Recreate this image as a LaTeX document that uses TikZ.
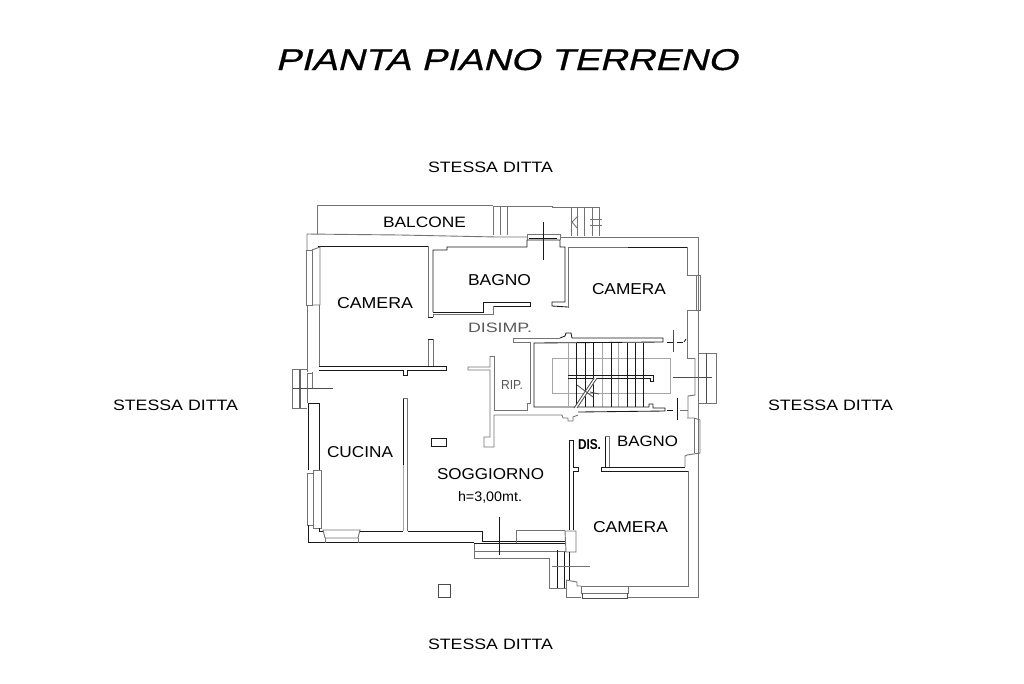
\documentclass[tikz,border=0pt]{standalone}
\usepackage{graphicx}
\usepackage{fontspec}
\setmainfont{Liberation Sans}
\newcommand{\fit}[3]{\resizebox{#1pt}{#2pt}{#3}}
\tikzset{
  k/.style={draw=black!90,line width=0.85pt,line cap=butt,line join=miter},
  g/.style={draw=black!55,line width=0.9pt,line join=miter},
  lg/.style={draw=black!35,line width=0.9pt},
  d/.style={draw=black!70,line width=0.85pt},
  lab/.style={anchor=base west,inner sep=0pt,outer sep=0pt,text=black},
  labg/.style={anchor=base west,inner sep=0pt,outer sep=0pt,text=black!65},
}
\begin{document}
\begin{tikzpicture}[x=1pt,y=-1pt]
\useasboundingbox (0,0) rectangle (1024,683);
\fill[white] (0,0) rectangle (1024,683);
% texts
\node[lab] (title) at (275.5,70) {\fit{462}{21}{\fontspec[FakeSlant=0.2,FakeBold=0.5]{Liberation Sans}PIANTA PIANO TERRENO}};
\node[lab] (s1) at (428,172.5) {\fit{125}{10.5}{STESSA DITTA}};
\node[lab] (s2) at (113,410) {\fit{125}{10.5}{STESSA DITTA}};
\node[lab] (s3) at (768,410) {\fit{125}{10.5}{STESSA DITTA}};
\node[lab] (s4) at (428,649) {\fit{125}{10.5}{STESSA DITTA}};
\node[lab] (balc) at (383,227) {\fit{83}{10.5}{BALCONE}};
\node[lab] (cam1) at (337,308) {\fit{76}{11}{CAMERA}};
\node[lab] (bag1) at (468,285) {\fit{63}{11}{BAGNO}};
\node[lab] (cam2) at (592,294) {\fit{74}{11}{CAMERA}};
\node[labg] (dis) at (468,332.5) {\fit{64}{9.5}{DISIMP.}};
\node[labg] (rip) at (501,389) {\fit{22}{9}{RIP.}};
\node[lab] (cuc) at (327,457) {\fit{66}{11}{CUCINA}};
\node[lab] (sog) at (437,479) {\fit{107}{11}{SOGGIORNO}};
\node[lab] (h) at (458,501) {\fit{64}{10}{h=3,00mt.}};
\node[lab] (dd) at (578,449) {\fit{23}{10}{\bfseries DIS.}};
\node[lab] (bag2) at (617,446) {\fit{61}{10.5}{BAGNO}};
\node[lab] (cam3) at (593,532) {\fit{75}{11}{CAMERA}};
% balcony
\draw[g] (317,234) -- (317,205) -- (493,205);
\draw[g] (493,206) -- (552,206) -- (552,207) -- (599,207) -- (599,236);
\foreach \x in {493,500,507} \draw[g] (\x,207) -- (\x,235);
\foreach \x in {571,577,584,592} \draw[g] (\x,207) -- (\x,236);
\draw[g] (578,216) -- (572,222) -- (577,228);
\draw[g] (590,219) -- (602,219) (590,225) -- (602,225);
% outer wall
\draw[g] (307,250) -- (307,234) -- (400,235) -- (497,237) -- (527,237);
\draw[g] (560,237) -- (698,237) -- (698,353);
\draw[g] (698,403) -- (698,597) -- (628,597);
\draw[g] (581,597) -- (566,597) -- (566,580);
\draw[g] (566,588) -- (549,588) -- (549,558) -- (474,558) -- (474,543);
\draw[g] (474,551) -- (566,551);
% top window
\draw[k] (433,312) -- (433,250) -- (447,250) -- (447,247) -- (527,247) -- (527,240) -- (560,240) -- (560,247) -- (565,247) -- (565,302) -- (552,302) -- (552,306) -- (568,307);
\draw[g] (527,234) -- (560,234) (527,234) -- (527,240) (560,234) -- (560,240);
\draw[k] (543,222) -- (543,260);
\draw[k] (529,238) -- (557,238);
% partition bagno/disimp
\draw[g] (568,247) -- (568,308);
\draw[g] (568,247) -- (628,247);
\draw[k] (628,247) -- (687,247);
\draw[g] (687,247) -- (687,275) -- (700,275) -- (700,310) -- (687,310) -- (687,358) -- (695,358);
\draw[g] (696,275) -- (696,310);
\draw[g] (428,246) -- (428,317);
\draw[k] (428,317) -- (433,317);
\draw[k] (433,312) -- (483,312) -- (483,302) -- (530,302) -- (530,306) -- (493,306);
\draw[g] (493,306) -- (493,314) -- (433,314) -- (433,317);
% camera 1
\draw[k] (318,246) -- (428,246);
\draw[g] (306,250) rectangle (312,305);
\draw[g] (312,250) -- (320,247) -- (320,305) -- (312,305);
\draw[g] (319,305) -- (319,367);
\draw[g] (307,305) -- (307,372);
\draw[g] (428,339) -- (428,367) (433,339) -- (433,367);
\draw[k] (428,339) -- (433,339);
\draw[k] (319,366.5) -- (446,366.5) -- (446,370) -- (407,370) -- (407,375) -- (403,375) -- (403,370) -- (319,370);
% left window
\draw[g] (307,373) rectangle (312,388);
\draw[g] (307,373) -- (307,403) (312,388) -- (312,372);
\draw[g] (307,369) -- (292,369) -- (292,408) -- (307,408);
\draw[draw=black!60,line width=1.6pt] (300,369) -- (300,408);
\draw[d] (293,388) -- (333,388);
% cucina
\draw[k] (308,470) -- (308,403) -- (319,403) -- (319,470);
\draw[g] (313,470) -- (321,470) -- (321,528) -- (313,528) -- (313,470);
\draw[g] (307,473) rectangle (313,525);
\draw[k] (308,525) -- (308,542) -- (474,542);
\draw[k] (319,528) -- (319,531) -- (323,531);
\draw[g] (323,530) -- (360,530) -- (358,538) -- (325,538) -- cycle;
\draw[g] (325,538) -- (325,543) (358,538) -- (358,543);
\draw[k] (360,531) -- (403,531);
\draw[k] (408,531) -- (482,531) -- (482,541) -- (565,541);
\draw[k] (403,398) -- (403,465);
\draw[lg] (403,465) -- (403,531);
\draw[g] (403,398) -- (407.5,398) -- (407.5,531);
\draw[k] (474,543.5) -- (566,543.5);
\draw[g] (516,530) -- (565,530);
\draw[g] (516,530) -- (516,543);
\draw[k] (499,517) -- (499,555);
% rect + square
\draw[k] (431,438) rectangle (446,446);
\draw[d] (438.5,584) rectangle (450.5,597);
% RIP and disimp
\draw[g] (490,356) -- (490,367) -- (468,367) -- (468,370) -- (490,370) -- (490,437) -- (484,437) -- (484,447) -- (494,447) -- (494,415) -- (562,415) -- (563,418) -- (568,418) -- (568,421) -- (573,421) -- (573,417) -- (578,415);
\draw[g] (490,356) -- (494,356) -- (494,410) -- (527,410) -- (527,403) -- (530.5,403) -- (530.5,342) -- (513,342) -- (513,338) -- (560,338);
\draw[k] (560,338) -- (565,336) -- (566,333) -- (571,333) -- (572,338) -- (663,338) -- (663,342) -- (534,343) -- (534,407) -- (590,407);
% stair
\draw[lg] (552,358) rectangle (670,393);
\foreach \x in {576,585,593,611,627,635,643} \draw[k] (\x,343) -- (\x,407);
\foreach \x in {568,602,618} \draw[lg] (\x,343) -- (\x,407);
\draw[k] (568,375) -- (653,375) -- (653,381) -- (650,381) -- (650,378) -- (568,378);
\draw[k] (590,407) -- (649,407) -- (649,404) -- (653,404) -- (653,408) -- (665,408) -- (665,411) -- (578,412);
\draw[draw=white,line width=2.5pt] (596,378) -- (576,408);
\draw[d] (597,378) -- (577,408) (594,378) -- (574,408);
\draw[d] (577,385) -- (593,397) (590,392) -- (599,394);
% right dash
\draw[k] (667,342) -- (673,342) (677,342) -- (683,342);
\draw[k] (686,339) -- (684,342);
\draw[d] (673,330) -- (673,352);
\draw[k] (667,410) -- (673,410);
\draw[g] (680,410) -- (688,410);
\draw[k] (677,398) -- (677,420);
\draw[d] (673,377) -- (712,377);
% right window
\draw[g] (695,358) -- (695,395) -- (688,396) -- (688,418);
\draw[g] (698,353) -- (716,353) -- (716,403) -- (698,403);
\draw[g] (698,353) -- (698,403);
\draw[d] (706,353) -- (706,403);
\draw[g] (687,418) -- (694,418) -- (700,420) -- (700,453) -- (687,455) -- (685,456) -- (685,467);
\draw[g] (694,418) -- (694,453);
% bagno low
\draw[k] (601,467) -- (685,467);
\draw[k] (601,467) -- (601,471) -- (688,471);
\draw[g] (688,471) -- (688,586) -- (628,586);
\draw[k] (605,467) -- (605,436) ;
\draw[g] (605,436) -- (609,436) -- (609,467);
% camera 3 left
\draw[k] (569.5,530) -- (569.5,440) -- (573,440) -- (573,467) -- (578,467) -- (578,471) -- (573,471) -- (573,530);
\draw[g] (565,531) -- (576,531) -- (576,552) -- (566,552) -- (565,531);
\draw[k] (564,552) -- (564,588);
\draw[k] (569,552) -- (569,580);
\draw[k] (557,550) -- (557,588);
\draw[g] (552,566) -- (590,566);
\draw[g] (566,580) -- (577,582) -- (577,586) -- (581,586);
\draw[g] (581,586) -- (628,586) -- (628,593) -- (581,593) -- cycle;
\draw[d] (582,593) -- (582,598) -- (627,598) -- (627,593);
\end{tikzpicture}
\end{document}
